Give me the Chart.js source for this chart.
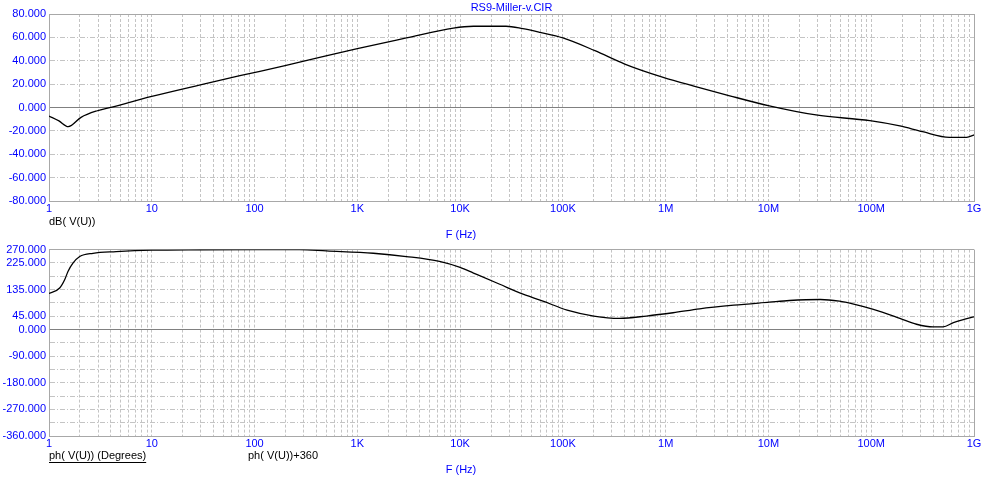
<!DOCTYPE html>
<html>
<head>
<meta charset="utf-8">
<script src="https://cdn.jsdelivr.net/npm/chart.js@4.4.1/dist/chart.umd.min.js"></script>
<style>
  html, body { margin: 0; padding: 0; background: #fff; }
  #wrap { position: relative; width: 999px; height: 481px; overflow: hidden; background: #fff; }
  canvas { position: absolute; left: 0; }
  #magChart { top: 0; }
  #phaseChart { top: 240px; }
</style>
</head>
<body>
<div id="wrap">
  <canvas id="magChart" width="999" height="240"></canvas>
  <canvas id="phaseChart" width="999" height="241"></canvas>
</div>
<script>
/* Bode plot of RS9-Miller-v.CIR: dB(V(U)) on top, phase below */
(function () {
  "use strict";

  // ---------- data ----------
  var decadeTicks  = [1, 10, 100, 1e3, 1e4, 1e5, 1e6, 1e7, 1e8, 1e9];
  var decadeLabels = ["1", "10", "100", "1K", "10K", "100K", "1M", "10M", "100M", "1G"];

  var magTicks = [-80, -60, -40, -20, 0, 20, 40, 60, 80];
  var phaseTicks = [-360, -315, -270, -225, -180, -135, -90, -45, 0, 45, 90, 135, 180, 225, 270];
  var phaseLabelled = [270, 225, 135, 45, 0, -90, -180, -270, -360];

  var magFreq = [1, 1.25, 1.54, 2.05, 2.9, 4.1, 10, 29, 72, 198, 400, 1000, 3000, 8600, 13500,
    28000, 40800, 59700, 1e5, 2.05e5, 4e5, 9.46e5, 2e6, 4.2e6, 1.02e7, 2.9e7, 9.7e7, 1.9e8,
    3.16e8, 5.75e8, 8.5e8, 1e9];
  var magDb = [-7.3, -11.5, -16.4, -8.4, -3, 0.4, 9.5, 19.2, 27.2, 35.8, 42.2, 50.4, 59.5, 68, 69.5,
    69.5, 67.4, 64.3, 59.5, 48.6, 37.2, 25.8, 17.7, 10, 1.4, -6.4, -11.3, -15.8,
    -20.7, -25.5, -25.5, -23.5];

  var phaseFreq = [1, 1.27, 1.42, 1.53, 1.71, 1.99, 2.68, 4.5, 10, 30, 100, 275, 500, 1430, 3000,
    6300, 1e4, 1.35e4, 2.4e4, 3.8e4, 6.4e4, 1.1e5, 2e5, 3.56e5, 6.5e5, 1.18e6, 2.14e6, 4.6e6,
    1.02e7, 1.6e7, 3.2e7, 4.9e7, 6.6e7, 1.05e8, 1.9e8, 2.76e8, 4e8, 5e8, 6.3e8, 8e8, 1e9];
  var phaseDeg = [121.5, 140, 168, 196, 224, 246.5, 257.6, 263, 268, 269.5, 270, 270, 265.6, 257.6, 246.5,
    230, 209.7, 190.6, 153.7, 123.6, 95.7, 65.6, 45.5, 37.8, 45.5, 56.5, 70, 82.3,
    92.4, 98, 101.4, 95.7, 86.7, 68, 37.8, 17.7, 8.6, 8.6, 23, 34, 43];

  // ---------- style ----------
  var FONT = "'Liberation Sans', Arial, sans-serif";
  var BLUE = "#0000ff", GRID = "#c4c4c4", FRAME = "#a8a8a8", ZERO = "#808080";

  Chart.defaults.font.family = FONT;
  Chart.defaults.font.size = 11;

  function xy(xs, ys) {
    return xs.map(function (x, i) { return { x: x, y: ys[i] }; });
  }

  // all 1..9 x 10^k positions for the log grid
  function logGridValues() {
    var out = [];
    for (var d = 0; d < 9; d++) {
      for (var m = 1; m < 10; m++) out.push(m * Math.pow(10, d));
    }
    out.push(1e9);
    return out;
  }

  function notesPlugin(items) {
    return {
      id: "notes",
      afterDraw: function (chart) {
        var ctx = chart.ctx;
        ctx.save();
        ctx.font = "11px " + FONT;
        ctx.textBaseline = "middle";
        items.forEach(function (n) {
          ctx.fillStyle = n.color;
          ctx.textAlign = n.align || "left";
          ctx.fillText(n.text, n.x, n.y);
          if (n.underline) {
            var w = ctx.measureText(n.text).width;
            ctx.fillRect(n.x, n.y + 6, w, 1);
          }
        });
        ctx.restore();
      }
    };
  }

  function xScale(height) {
    var gridVals = logGridValues();
    return {
      type: "logarithmic", min: 1, max: 1e9,
      afterBuildTicks: function (s) { s.ticks = gridVals.map(function (v) { return { value: v }; }); },
      afterFit: function (s) { s.height = height; },
      ticks: {
        color: BLUE, autoSkip: false, maxRotation: 0, padding: 1,
        callback: function (v) {
          var i = decadeTicks.indexOf(v);
          return i < 0 ? "" : decadeLabels[i];
        }
      },
      grid: {
        drawTicks: false, lineWidth: 1,
        color: function (c) {
          if (!c.tick) return FRAME;
          return (c.tick.value === 1 || c.tick.value === 1e9) ? FRAME : GRID;
        }
      },
      border: {
        color: FRAME, width: 1,
        dash: function (c) {
          if (!c.tick) return [];
          return (c.tick.value === 1 || c.tick.value === 1e9) ? [] : [3, 2];
        }
      }
    };
  }

  function yScale(min, max, tickVals, labelled) {
    return {
      type: "linear", min: min, max: max,
      afterBuildTicks: function (s) { s.ticks = tickVals.map(function (v) { return { value: v }; }); },
      afterFit: function (s) { s.width = 49; },
      ticks: {
        color: BLUE, autoSkip: false, padding: 3,
        callback: function (v) {
          if (labelled && labelled.indexOf(v) < 0) return "";
          return v.toFixed(3);
        }
      },
      grid: {
        drawTicks: false, lineWidth: 1,
        color: function (c) {
          if (!c.tick) return FRAME;
          var v = c.tick.value;
          if (v === 0) return ZERO;
          return (v === min || v === max) ? FRAME : GRID;
        }
      },
      border: {
        color: FRAME, width: 1,
        dash: function (c) {
          if (!c.tick) return [];
          var v = c.tick.value;
          return (v === 0 || v === min || v === max) ? [] : [5, 2, 1, 2];
        }
      }
    };
  }

  function traceDataset(label, data) {
    return {
      label: label, data: data,
      borderColor: "#000", backgroundColor: "#000",
      borderWidth: 1.3, pointRadius: 0, fill: false,
      cubicInterpolationMode: "monotone"
    };
  }

  // ---------- magnitude ----------
  new Chart(document.getElementById("magChart"), {
    type: "line",
    data: { datasets: [traceDataset("dB( V(U))", xy(magFreq, magDb))] },
    options: {
      responsive: false, animation: false,
      layout: { padding: { left: 0, right: 25, top: 0, bottom: 0 } },
      plugins: {
        legend: { display: false },
        tooltip: { enabled: false },
        title: {
          display: true, text: "RS9-Miller-v.CIR", color: BLUE, fullSize: false,
          font: { size: 11, weight: "normal", lineHeight: "13px" },
          padding: { top: 1, bottom: 0 }
        }
      },
      scales: { x: xScale(39), y: yScale(-80, 80, magTicks, null) }
    },
    plugins: [notesPlugin([
      { text: "dB( V(U))", x: 49, y: 222, color: "#000" },
      { text: "F (Hz)", x: 461, y: 235, color: BLUE, align: "center" }
    ])]
  });

  // ---------- phase ----------
  new Chart(document.getElementById("phaseChart"), {
    type: "line",
    data: { datasets: [traceDataset("ph( V(U))+360", xy(phaseFreq, phaseDeg))] },
    options: {
      responsive: false, animation: false,
      layout: { padding: { left: 0, right: 25, top: 8, bottom: 0 } },
      plugins: { legend: { display: false }, tooltip: { enabled: false } },
      scales: { x: xScale(45), y: yScale(-360, 270, phaseTicks, phaseLabelled) }
    },
    plugins: [notesPlugin([
      { text: "ph( V(U)) (Degrees)", x: 49, y: 216, color: "#000", underline: true },
      { text: "ph( V(U))+360", x: 248, y: 216, color: "#000" },
      { text: "F (Hz)", x: 461, y: 230, color: BLUE, align: "center" }
    ])]
  });
})();
</script>
</body>
</html>
